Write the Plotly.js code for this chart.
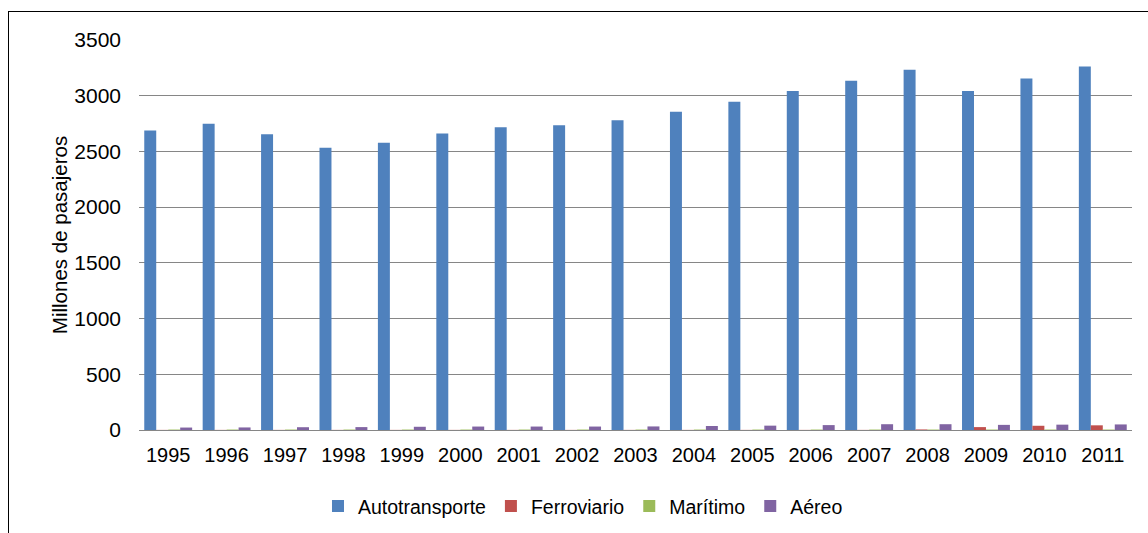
<!DOCTYPE html>
<html>
<head>
<meta charset="utf-8">
<script src="https://cdn.plot.ly/plotly-3.0.1.min.js"></script>
<style>
  html, body { margin: 0; padding: 0; background: #ffffff; }
  #frame { position: absolute; left: 8px; top: 11px; width: 1200px; height: 600px;
           border-left: 1px solid #000; border-top: 1px solid #000; box-sizing: border-box; }
  #chart { position: absolute; left: 0; top: 0; width: 1148px; height: 533px; }
</style>
</head>
<body>
<div id="frame"></div>
<div id="chart"></div>
<script>
const years = ["1995","1996","1997","1998","1999","2000","2001","2002","2003","2004","2005","2006","2007","2008","2009","2010","2011"];
const autotransporte = [2688, 2748, 2655, 2532, 2578, 2662, 2716, 2736, 2780, 2855, 2945, 3042, 3135, 3232, 3042, 3155, 3262];
const ferroviario    = [1, 1, 1, 1, 1, 1, 1, 1, 1, 1, 1, 1, 1, 5, 26, 38, 42];
const maritimo       = [4, 4, 4, 4, 4, 4, 4, 4, 4, 4, 4, 4, 4, 4, 4, 4, 4];
const aereo          = [22, 23, 25, 26, 29, 31, 31, 31, 32, 36, 39, 44, 52, 52, 46, 48, 50];
const seriesNames = ["Autotransporte", "Ferroviario", "Marítimo", "Aéreo"];
const seriesColors = ["#4F81BD", "#C0504D", "#9BBB59", "#8064A2"];
const seriesValues = [autotransporte, ferroviario, maritimo, aereo];

const traces = seriesValues.map((vals, i) => ({
  type: "bar",
  name: seriesNames[i],
  x: years,
  y: vals,
  marker: { color: seriesColors[i], line: { width: 0 } },
  hoverinfo: "x+y+name"
}));

const layout = {
  width: 1148,
  height: 533,
  paper_bgcolor: "rgba(0,0,0,0)",
  plot_bgcolor: "rgba(0,0,0,0)",
  margin: { l: 139, r: 16, t: 40, b: 103 },
  barmode: "group",
  bargap: 0.18,
  bargroupgap: 0,
  font: { family: "Liberation Sans, Arial, sans-serif", size: 20, color: "#000000" },
  xaxis: {
    type: "category",
    showgrid: false,
    showline: true,
    linecolor: "#868686",
    linewidth: 1,
    ticks: "",
    tickfont: { size: 20 },
    ticklabelstandoff: 7,
    automargin: false
  },
  yaxis: {
    range: [0, 3500],
    dtick: 500,
    showgrid: true,
    gridcolor: "#868686",
    gridwidth: 1,
    zeroline: false,
    showline: false,
    ticks: "",
    ticklen: 0,
    tickfont: { size: 21 },
    ticklabelstandoff: 17,
    title: { text: "Millones de pasajeros", font: { size: 20.5 }, standoff: 1 },
    automargin: false
  },
  legend: {
    orientation: "h",
    xref: "container",
    yref: "container",
    x: 0.277,
    xanchor: "left",
    y: 0.05,
    yanchor: "middle",
    font: { size: 19.5 },
    bgcolor: "rgba(0,0,0,0)"
  },
  showlegend: true
};

Plotly.newPlot("chart", traces, layout, { displayModeBar: false, staticPlot: true });
</script>
</body>
</html>
